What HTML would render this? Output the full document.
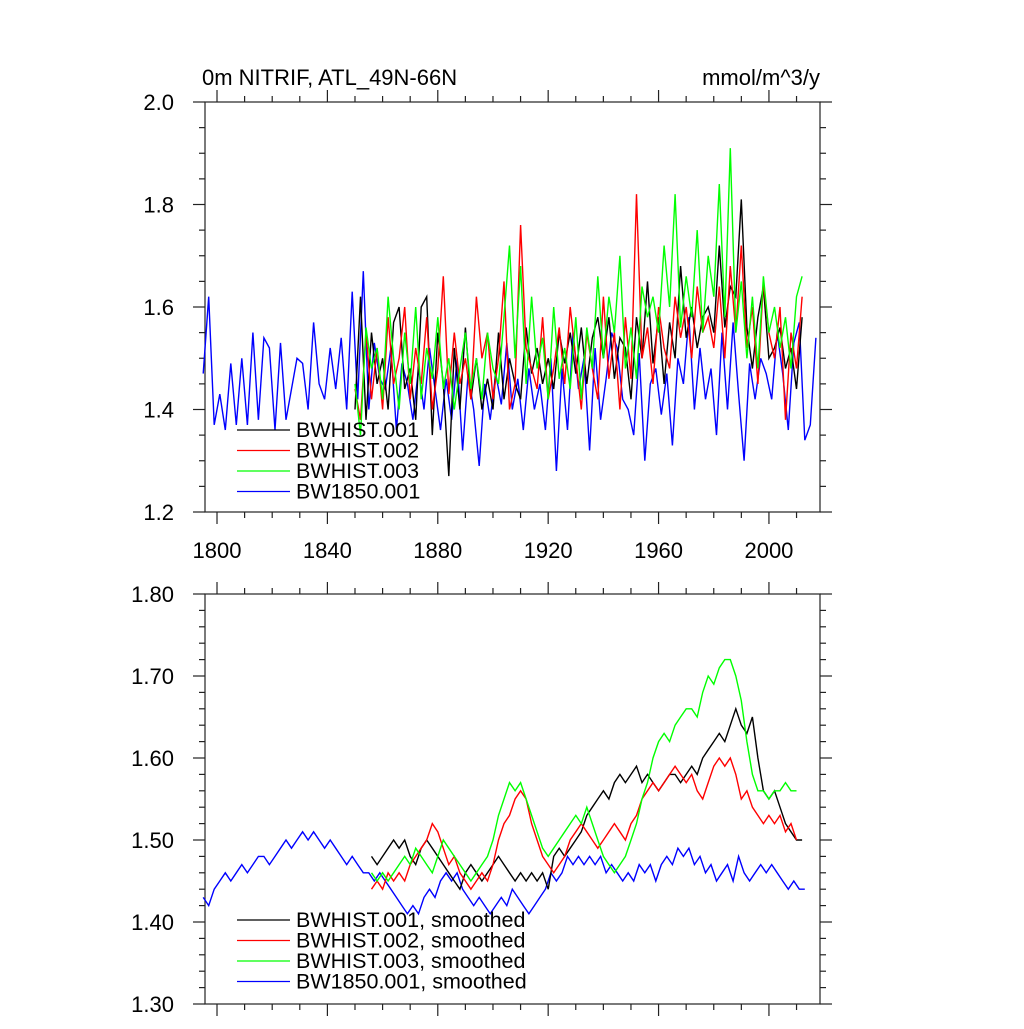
<!DOCTYPE html>
<html><head><meta charset="utf-8"><style>
body{margin:0;background:#fff}
svg text{font-family:"Liberation Sans",sans-serif;fill:#000}
</style></head><body>
<svg id="chart" width="1024" height="1024" xmlns="http://www.w3.org/2000/svg">
<text x="202" y="85" font-size="22">0m NITRIF, ATL_49N-66N</text>
<text x="820" y="85" font-size="22" text-anchor="end">mmol/m^3/y</text>
<g id="top"></g>
<g id="bot"></g>
</svg>
<script>
const xTicks=[1800,1840,1880,1920,1960,2000];
const topYTicks=[1.2,1.4,1.6,1.8,2.0];
const topYLabels=["1.2","1.4","1.6","1.8","2.0"];
const botYTicks=[1.3,1.4,1.5,1.6,1.7,1.8];
const botYLabels=["1.30","1.40","1.50","1.60","1.70","1.80"];
const rawStart1850=1795, rawStartHist=1850;
const raw1850=[1.47,1.62,1.37,1.43,1.36,1.49,1.37,1.50,1.37,1.55,1.38,1.54,1.52,1.36,1.53,1.38,1.44,1.50,1.49,1.40,1.57,1.45,1.42,1.52,1.44,1.54,1.40,1.63,1.42,1.67,1.40,1.53,1.46,1.44,1.52,1.36,1.49,1.45,1.38,1.48,1.40,1.52,1.44,1.36,1.46,1.38,1.50,1.32,1.47,1.40,1.29,1.45,1.38,1.47,1.41,1.53,1.40,1.46,1.36,1.48,1.40,1.45,1.36,1.50,1.28,1.48,1.36,1.55,1.44,1.50,1.32,1.52,1.38,1.46,1.55,1.52,1.42,1.40,1.35,1.51,1.30,1.45,1.48,1.39,1.47,1.33,1.50,1.45,1.58,1.40,1.52,1.42,1.48,1.35,1.55,1.40,1.57,1.43,1.30,1.49,1.42,1.50,1.47,1.42,1.55,1.47,1.36,1.53,1.57,1.34,1.37,1.54];
const rawHist1=[1.40,1.62,1.38,1.55,1.45,1.50,1.40,1.57,1.60,1.44,1.48,1.38,1.60,1.62,1.35,1.55,1.45,1.27,1.52,1.40,1.56,1.42,1.50,1.40,1.46,1.40,1.55,1.42,1.50,1.45,1.42,1.56,1.47,1.52,1.45,1.50,1.44,1.55,1.49,1.55,1.47,1.56,1.45,1.54,1.58,1.50,1.58,1.46,1.54,1.52,1.42,1.58,1.50,1.65,1.49,1.58,1.45,1.57,1.50,1.68,1.54,1.60,1.52,1.58,1.60,1.55,1.72,1.56,1.64,1.62,1.81,1.56,1.48,1.58,1.64,1.50,1.52,1.56,1.48,1.52,1.44,1.58];
const rawHist2=[1.44,1.38,1.55,1.42,1.52,1.40,1.58,1.45,1.50,1.60,1.42,1.52,1.45,1.58,1.40,1.48,1.66,1.43,1.55,1.45,1.50,1.42,1.62,1.50,1.55,1.42,1.50,1.65,1.40,1.45,1.76,1.52,1.48,1.44,1.58,1.42,1.48,1.56,1.45,1.60,1.50,1.40,1.55,1.48,1.42,1.62,1.46,1.55,1.40,1.58,1.46,1.82,1.50,1.56,1.45,1.60,1.52,1.48,1.62,1.54,1.60,1.50,1.64,1.55,1.58,1.52,1.64,1.50,1.68,1.55,1.72,1.52,1.60,1.45,1.65,1.55,1.50,1.60,1.38,1.55,1.48,1.62];
const rawHist3=[1.45,1.35,1.56,1.48,1.52,1.42,1.62,1.50,1.40,1.55,1.45,1.60,1.42,1.52,1.46,1.58,1.44,1.50,1.40,1.48,1.55,1.44,1.50,1.42,1.55,1.48,1.45,1.58,1.72,1.50,1.68,1.45,1.62,1.48,1.54,1.42,1.60,1.46,1.52,1.44,1.58,1.42,1.56,1.48,1.66,1.50,1.62,1.55,1.70,1.48,1.56,1.46,1.64,1.58,1.62,1.55,1.72,1.60,1.82,1.56,1.66,1.58,1.75,1.55,1.70,1.62,1.84,1.58,1.91,1.55,1.65,1.50,1.62,1.48,1.66,1.55,1.60,1.52,1.58,1.48,1.62,1.66];
const smStart1850=1795, smStartHist=1856;
const sm1850=[1.43,1.42,1.44,1.45,1.46,1.45,1.46,1.47,1.46,1.47,1.48,1.48,1.47,1.48,1.49,1.50,1.49,1.50,1.51,1.50,1.51,1.50,1.49,1.50,1.49,1.48,1.47,1.48,1.47,1.46,1.46,1.45,1.46,1.45,1.44,1.43,1.42,1.41,1.42,1.41,1.43,1.44,1.43,1.45,1.46,1.45,1.46,1.44,1.43,1.42,1.43,1.42,1.41,1.42,1.43,1.42,1.44,1.43,1.42,1.41,1.42,1.43,1.44,1.46,1.45,1.46,1.48,1.47,1.48,1.47,1.48,1.47,1.48,1.46,1.47,1.46,1.45,1.46,1.45,1.47,1.46,1.47,1.45,1.47,1.48,1.47,1.49,1.48,1.49,1.47,1.48,1.46,1.47,1.45,1.46,1.47,1.45,1.48,1.46,1.45,1.46,1.47,1.46,1.47,1.46,1.45,1.44,1.45,1.44,1.44];
const smHist1=[1.48,1.47,1.48,1.49,1.50,1.49,1.50,1.48,1.47,1.49,1.50,1.49,1.48,1.47,1.46,1.45,1.44,1.46,1.47,1.46,1.45,1.46,1.47,1.48,1.47,1.46,1.45,1.46,1.45,1.46,1.45,1.46,1.44,1.48,1.49,1.48,1.49,1.50,1.51,1.53,1.54,1.55,1.56,1.55,1.57,1.58,1.57,1.58,1.59,1.57,1.58,1.57,1.56,1.57,1.58,1.58,1.57,1.58,1.59,1.58,1.60,1.61,1.62,1.63,1.62,1.64,1.66,1.64,1.63,1.65,1.60,1.56,1.55,1.56,1.54,1.52,1.51,1.50,1.50];
const smHist2=[1.44,1.45,1.44,1.46,1.45,1.46,1.45,1.47,1.48,1.49,1.50,1.52,1.51,1.49,1.47,1.48,1.46,1.45,1.44,1.45,1.46,1.45,1.47,1.50,1.52,1.53,1.55,1.56,1.55,1.52,1.50,1.48,1.47,1.46,1.47,1.48,1.50,1.51,1.52,1.51,1.50,1.49,1.50,1.51,1.52,1.51,1.50,1.52,1.53,1.55,1.56,1.57,1.56,1.57,1.58,1.59,1.58,1.57,1.58,1.56,1.55,1.57,1.59,1.60,1.59,1.60,1.58,1.55,1.56,1.54,1.53,1.52,1.53,1.52,1.53,1.51,1.52,1.50];
const smHist3=[1.46,1.45,1.46,1.45,1.46,1.47,1.48,1.47,1.49,1.48,1.47,1.46,1.48,1.50,1.49,1.48,1.47,1.46,1.45,1.46,1.47,1.48,1.50,1.53,1.55,1.57,1.56,1.57,1.55,1.53,1.51,1.49,1.48,1.49,1.50,1.51,1.52,1.53,1.52,1.54,1.52,1.50,1.48,1.47,1.46,1.47,1.48,1.50,1.52,1.55,1.57,1.60,1.62,1.63,1.62,1.64,1.65,1.66,1.66,1.65,1.68,1.70,1.69,1.71,1.72,1.72,1.70,1.67,1.62,1.58,1.56,1.56,1.55,1.56,1.56,1.57,1.56,1.56];
const topLegend=["BWHIST.001","BWHIST.002","BWHIST.003","BW1850.001"];
const botLegend=["BWHIST.001, smoothed","BWHIST.002, smoothed","BWHIST.003, smoothed","BW1850.001, smoothed"];
const colors=["#000","#f00","#0f0","#00f"];

const NS="http://www.w3.org/2000/svg";
const L=205,R=820,X0=1795.65,X1=2018.5;
const sx=v=>L+(v-X0)/(X1-X0)*(R-L);
function mk(p,tag,at){const e=document.createElementNS(NS,tag);for(const k in at)e.setAttribute(k,at[k]);p.appendChild(e);return e;}
function panel(g,T,B,y0,y1,yt,yl,ymin,series,starts,leg,legY,showX){
  const sy=v=>B-(v-y0)/(y1-y0)*(B-T);
  const ax=mk(g,'g',{stroke:'#222','stroke-width':1.2,fill:'none'});
  
  
  for(let yr=1800;yr<=2010;yr+=10){const x=sx(yr),len=(yr%40===0)?12:6;
    mk(ax,'line',{x1:x,x2:x,y1:B,y2:B+len});mk(ax,'line',{x1:x,x2:x,y1:T,y2:T-len});}
  const n=Math.round((y1-y0)/ymin);
  for(let i=0;i<=n;i++){const v=y0+i*ymin,y=sy(v);const maj=yt.some(t=>Math.abs(t-v)<1e-6);const len=maj?12:6;
    mk(ax,'line',{x1:L,x2:L-len,y1:y,y2:y});mk(ax,'line',{x1:R,x2:R+len,y1:y,y2:y});}
  yt.forEach((v,i)=>{const t=mk(g,'text',{x:174,y:sy(v)+8,'font-size':22,'text-anchor':'end'});t.textContent=yl[i];
    
    });
  if(showX)xTicks.forEach(v=>{const t=mk(g,'text',{x:sx(v),y:558,'font-size':22,'text-anchor':'middle'});t.textContent=v;
    
    });
  const order=[3,0,1,2];
  order.forEach(i=>{const d=series[i];const pts=d.map((v,k)=>sx(starts[i]+2*k).toFixed(1)+','+sy(v).toFixed(1)).join(' ');
    const pl=mk(g,'polyline',{points:pts,fill:'none',stroke:colors[i],'stroke-width':1.4});
    
    });
  mk(ax,'rect',{x:L,y:T,width:R-L,height:B-T});
  leg.forEach((s,i)=>{const y=legY+i*20.5;
    const ln=mk(g,'line',{x1:237,x2:290,y1:y,y2:y,stroke:colors[i],'stroke-width':1.3});
    
    
    const t=mk(g,'text',{x:296,y:y+7,'font-size':21.5});t.textContent=s;
    
    });
}
panel(document.getElementById('top'),102,512,1.2,2.0,topYTicks,topYLabels,0.05,
  [rawHist1,rawHist2,rawHist3,raw1850],[rawStartHist,rawStartHist,rawStartHist,rawStart1850],topLegend,430,true);
panel(document.getElementById('bot'),594,1004,1.3,1.8,botYTicks,botYLabels,0.02,
  [smHist1,smHist2,smHist3,sm1850],[smStartHist,smStartHist,smStartHist,smStart1850],botLegend,920,false);
</script>
</body></html>
